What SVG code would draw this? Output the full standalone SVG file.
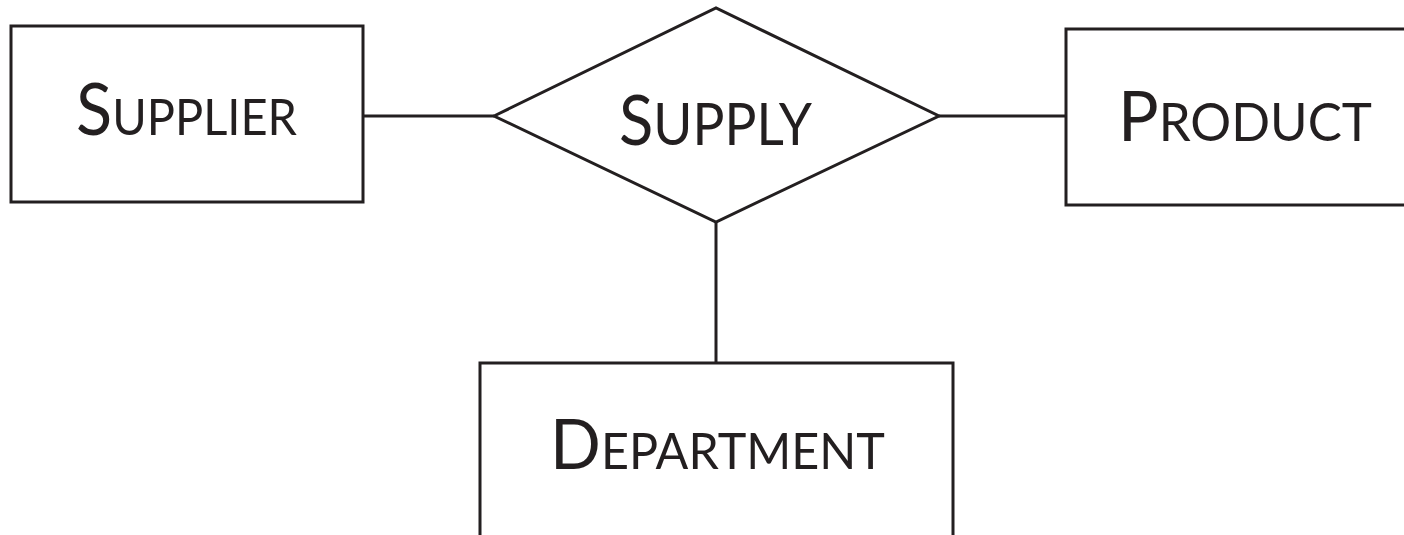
<svg xmlns="http://www.w3.org/2000/svg" width="1404" height="535" viewBox="0 0 1404 535">
<style>
.shape{fill:#fff;stroke:#231f20;stroke-width:3}
.conn{stroke:#231f20;stroke-width:3;fill:none}
.lbl{font-family:Lato,"Open Sans","Liberation Sans",sans-serif;fill:#231f20}
.big{font-size:71px}
.sm{font-size:50px}
</style>
<rect width="1404" height="535" fill="#fff"/>
<g id="connectors">
<line class="conn" x1="363" y1="116" x2="494" y2="116"/>
<line class="conn" x1="939" y1="116" x2="1066" y2="116"/>
<line class="conn" x1="716" y1="222" x2="716" y2="363"/>
</g>
<g id="supplier">
<rect class="shape" x="11" y="26" width="352" height="176"/>
<text class="lbl" x="76" y="135" textLength="221" lengthAdjust="spacingAndGlyphs"><tspan class="big">S</tspan><tspan class="sm">UPPLIER</tspan></text>
</g>
<g id="supply">
<polygon class="shape" points="494,116 716,8 939,116 716,222"/>
<text class="lbl" x="619" y="145" textLength="193" lengthAdjust="spacingAndGlyphs"><tspan class="big" style="font-size:69px">S</tspan><tspan class="sm" style="font-size:58px">UPPLY</tspan></text>
</g>
<g id="product">
<rect class="shape" x="1066" y="29" width="350" height="176"/>
<text class="lbl" x="1118" y="141" textLength="254" lengthAdjust="spacingAndGlyphs"><tspan class="big" style="font-size:69px">P</tspan><tspan class="sm" style="font-size:52px">RODUCT</tspan></text>
</g>
<g id="department">
<rect class="shape" x="480" y="363" width="473" height="190"/>
<text class="lbl" x="550" y="469" textLength="335" lengthAdjust="spacingAndGlyphs"><tspan class="big" style="font-size:69px">D</tspan><tspan class="sm">EPARTMENT</tspan></text>
</g>
</svg>
